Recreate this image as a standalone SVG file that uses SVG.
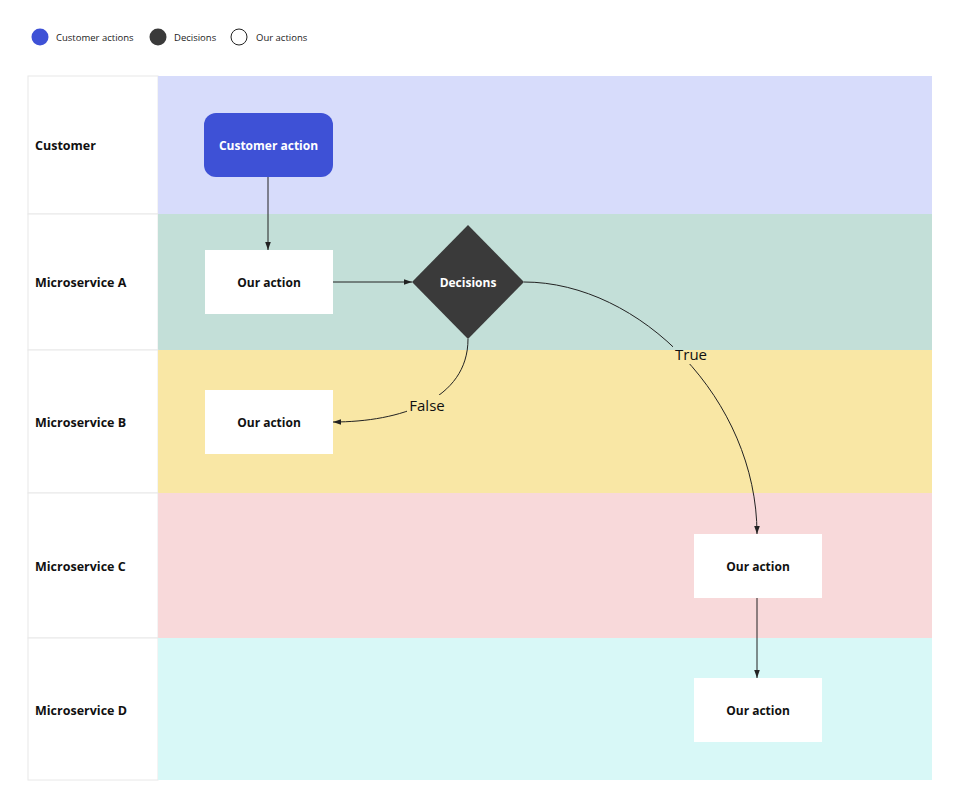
<svg xmlns="http://www.w3.org/2000/svg" width="960" height="807" viewBox="0 0 960 807">
<defs>
<marker id="ah" viewBox="0 0 10 10" refX="10" refY="5" markerWidth="8" markerHeight="8" markerUnits="userSpaceOnUse" orient="auto"><path d="M0,1.5 L10,5 L0,8.5 z" fill="#222"/></marker>
</defs>
<style>
text{font-family:"Open Sans","Noto Sans","Liberation Sans",sans-serif}
.lane{font-size:12.5px;font-weight:bold;fill:#111}
.nt{font-size:12px;font-weight:bold;text-anchor:middle;fill:#111}
.lg{font-size:9.5px;fill:#222}
.lbl{font-size:15px;fill:#111;text-anchor:middle}
.conn{fill:none;stroke:#222;stroke-width:1;marker-end:url(#ah)}
.box{fill:#fff}
.cell{fill:#fff;stroke:#e8e8e8;stroke-width:1}
</style>
<rect width="960" height="807" fill="#fff"/>
<g id="legend">
<circle cx="40" cy="37" r="8.5" fill="#3e51d6"/><text class="lg" x="56" y="40.5">Customer actions</text>
<circle cx="158" cy="37" r="8.5" fill="#3a3a3a"/><text class="lg" x="174" y="40.5">Decisions</text>
<circle cx="239" cy="37" r="8" fill="#fff" stroke="#222" stroke-width="1"/><text class="lg" x="256" y="40.5">Our actions</text>
</g>
<g id="lanes">
<rect class="cell" x="28" y="76" width="130" height="138"/><rect x="158" y="76" width="774" height="138" fill="#d7dcfb"/>
<rect class="cell" x="28" y="214" width="130" height="136"/><rect x="158" y="214" width="774" height="136" fill="#c3dfd8"/>
<rect class="cell" x="28" y="350" width="130" height="143"/><rect x="158" y="350" width="774" height="143" fill="#f9e7a5"/>
<rect class="cell" x="28" y="493" width="130" height="145"/><rect x="158" y="493" width="774" height="145" fill="#f8d9da"/>
<rect class="cell" x="28" y="638" width="130" height="142"/><rect x="158" y="638" width="774" height="142" fill="#d8f8f7"/>
<text class="lane" x="35" y="150">Customer</text>
<text class="lane" x="35" y="287">Microservice A</text>
<text class="lane" x="35" y="427">Microservice B</text>
<text class="lane" x="35" y="571">Microservice C</text>
<text class="lane" x="35" y="715">Microservice D</text>
</g>
<g id="connectors">
<path class="conn" d="M268,177 L268,250"/>
<path class="conn" d="M333,282 L412,282"/>
<path class="conn" d="M468,339 C468,400 400,422 333,422"/>
<path class="conn" d="M524,282 C640,282 757,400 757,534"/>
<path class="conn" d="M757,598 L757,678"/>
<rect x="407" y="395" width="40" height="20" fill="#f9e7a5"/>
<text class="lbl" x="427" y="411">False</text>
<rect x="673" y="342" width="38" height="8" fill="#c3dfd8"/>
<rect x="673" y="350" width="38" height="14" fill="#f9e7a5"/>
<text class="lbl" x="691" y="360">True</text>
</g>
<g id="n-customer"><rect x="204" y="113" width="129" height="64" rx="12" fill="#3e51d6"/><text class="nt" x="268.5" y="149.5" fill="#fff" style="fill:#fff">Customer action</text></g>
<g id="n-a"><rect class="box" x="205" y="250" width="128" height="64"/><text class="nt" x="269" y="286.5">Our action</text></g>
<g id="n-dec"><polygon points="468,225 524,282 468,339 412,282" fill="#3a3a3a"/><text class="nt" x="468" y="286.5" style="fill:#fff">Decisions</text></g>
<g id="n-b"><rect class="box" x="205" y="390" width="128" height="64"/><text class="nt" x="269" y="426.5">Our action</text></g>
<g id="n-c"><rect class="box" x="694" y="534" width="128" height="64"/><text class="nt" x="758" y="570.5">Our action</text></g>
<g id="n-d"><rect class="box" x="694" y="678" width="128" height="64"/><text class="nt" x="758" y="714.5">Our action</text></g>
</svg>
